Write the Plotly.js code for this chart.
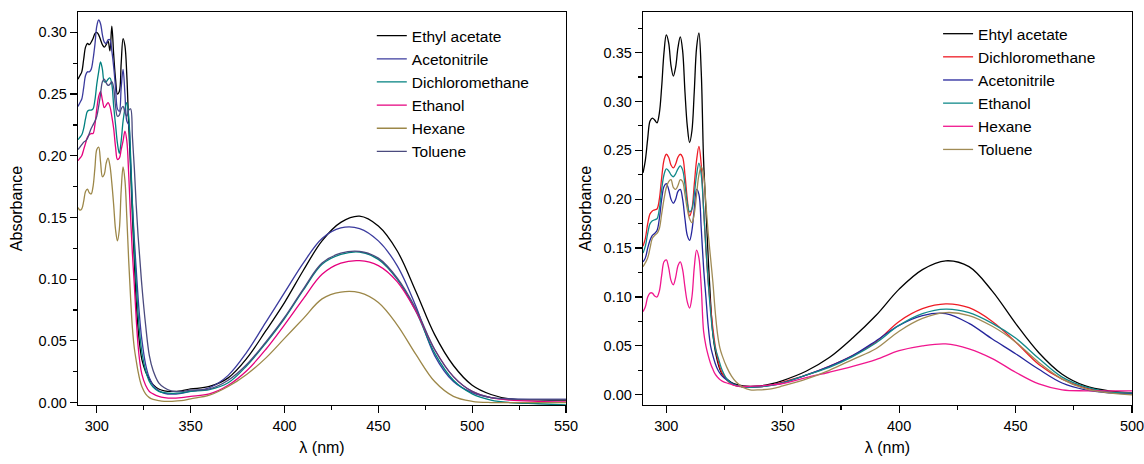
<!DOCTYPE html>
<html>
<head>
<meta charset="utf-8">
<script src="https://cdn.plot.ly/plotly-3.0.1.min.js"></script>
<style>html,body{margin:0;padding:0;background:#fff;}#chart{width:1144px;height:464px;}</style>
</head>
<body>
<div id="chart"></div>
<script>
// ---------- Left panel data ----------
const wlLeft = [290,291,292,293,294,295,296,297,298,299,300,301,302,303,304,305,306,307,308,309,310,311,312,313,314,315,316,317,318,319,320,321,322,323,324,326,328,330,333,336,340,345,350,360,370,380,390,400,410,420,430,440,450,460,470,480,490,500,510,520,535,550];
const leftNames = ["Ethyl acetate","Acetonitrile","Dichloromethane","Ethanol","Hexane","Toluene"];
const leftEthylAcetate = [0.262,0.265,0.268,0.278,0.288,0.291,0.290,0.292,0.295,0.299,
  0.300,0.298,0.294,0.290,0.288,0.290,0.293,0.285,0.305,0.282,
  0.262,0.250,0.252,0.275,0.295,0.289,0.265,0.225,0.190,0.150,
  0.115,0.082,0.060,0.045,0.035,
  0.025,0.019,0.0145,0.011,0.0095,0.009,0.0095,0.011,
  0.013,0.020,0.036,0.058,0.081,0.107,0.131,0.146,0.151,0.143,0.123,0.090,0.055,0.030,0.014,0.0065,0.003,0.0022,0.002];
const leftAcetonitrile = [0.240,0.243,0.246,0.255,0.265,0.268,0.268,0.270,0.278,0.290,
  0.305,0.310,0.307,0.298,0.292,0.291,0.294,0.294,0.285,0.272,
  0.255,0.238,0.236,0.255,0.270,0.250,0.228,0.225,0.195,0.160,
  0.132,0.108,0.085,0.066,0.051,
  0.031,0.020,0.014,0.0095,0.0075,0.0068,0.0075,0.009,
  0.012,0.022,0.041,0.065,0.089,0.113,0.133,0.1415,0.141,0.131,0.111,0.078,0.038,0.017,0.008,0.004,0.003,0.0025,0.0025];
const leftDichloromethane = [0.213,0.215,0.217,0.222,0.230,0.236,0.237,0.237,0.238,0.245,
  0.258,0.268,0.276,0.270,0.260,0.260,0.262,0.263,0.258,0.240,
  0.225,0.210,0.202,0.212,0.228,0.238,0.243,0.232,0.200,0.160,
  0.125,0.097,0.072,0.054,0.041,
  0.026,0.017,0.0125,0.009,0.008,0.0075,0.0078,0.009,
  0.0105,0.016,0.030,0.048,0.068,0.091,0.112,0.120,0.122,0.116,0.100,0.074,0.040,0.018,0.007,0.002,0.0,-0.001,-0.002];
const leftEthanol = [0.196,0.198,0.200,0.205,0.210,0.215,0.217,0.218,0.218,0.225,
  0.238,0.248,0.252,0.245,0.239,0.241,0.243,0.240,0.232,0.222,
  0.207,0.197,0.198,0.205,0.212,0.220,0.212,0.185,0.150,0.120,
  0.095,0.068,0.046,0.032,0.023,
  0.014,0.009,0.007,0.005,0.004,0.0035,0.004,0.005,
  0.007,0.014,0.026,0.043,0.063,0.084,0.104,0.113,0.115,0.111,0.098,0.074,0.043,0.021,0.009,0.004,0.002,0.001,0.0005];
const leftHexane = [0.158,0.156,0.157,0.163,0.171,0.173,0.170,0.169,0.175,0.190,
  0.205,0.207,0.195,0.183,0.185,0.194,0.198,0.192,0.178,0.160,
  0.140,0.131,0.140,0.172,0.191,0.180,0.150,0.115,0.085,0.060,
  0.044,0.034,0.025,0.018,0.013,
  0.007,0.004,0.0025,0.0015,0.001,0.001,0.0015,0.003,
  0.006,0.013,0.023,0.036,0.052,0.068,0.084,0.0895,0.089,0.081,0.063,0.039,0.017,0.005,0.001,0.0,0.0,0.0,0.0];
const leftToluene = [0.205,0.207,0.209,0.211,0.212,0.214,0.218,0.222,0.225,0.228,
  0.232,0.240,0.250,0.260,0.262,0.259,0.257,0.258,0.260,0.255,
  0.240,0.232,0.233,0.238,0.240,0.235,0.232,0.237,0.238,0.215,
  0.190,0.160,0.135,0.115,0.095,
  0.063,0.038,0.026,0.016,0.012,0.0092,0.009,0.010,
  0.011,0.018,0.031,0.049,0.069,0.092,0.113,0.121,0.1225,0.117,0.101,0.076,0.043,0.021,0.009,0.004,0.0028,0.0025,0.0025];
const leftColors = ["#000000","#3b3b9e","#00807f","#e5007e","#9c8748","#4a4a7e"];

// ---------- Right panel data ----------
const wlRight = [290,291,292,293,294,295,296,297,298,299,300,301,302,303,304,305,306,307,308,309,310,311,312,313,314,315,316,317,318,319,320,321,322,323,324,326,328,330,333,336,340,345,350,360,370,380,390,400,410,420,430,440,450,460,470,480,490,500];
const rightNames = ["Ehtyl acetate","Dichloromethane","Acetonitrile","Ethanol","Hexane","Toluene"];
const rightEthylAcetate = [0.227,0.240,0.262,0.280,0.283,0.281,0.278,0.288,0.315,0.350,
  0.368,0.360,0.337,0.326,0.335,0.355,0.366,0.352,0.310,0.275,
  0.258,0.270,0.310,0.355,0.370,0.330,0.240,0.190,0.140,0.095,
  0.062,0.045,0.034,0.026,0.021,
  0.016,0.0125,0.0105,0.009,0.0085,0.009,0.011,0.0145,
  0.024,0.038,0.058,0.081,0.108,0.128,0.137,0.131,0.106,0.073,0.043,0.021,0.009,0.004,0.002];
const rightDichloromethane = [0.152,0.160,0.175,0.185,0.188,0.189,0.190,0.200,0.222,0.240,
  0.246,0.243,0.235,0.232,0.236,0.243,0.246,0.243,0.225,0.200,
  0.183,0.190,0.215,0.240,0.254,0.235,0.190,0.150,0.115,0.090,
  0.068,0.050,0.037,0.028,0.022,
  0.015,0.011,0.009,0.008,0.0075,0.008,0.010,0.013,
  0.020,0.029,0.040,0.054,0.075,0.088,0.093,0.089,0.075,0.054,0.031,0.016,0.007,0.003,0.002];
const rightAcetonitrile = [0.136,0.140,0.150,0.158,0.163,0.165,0.168,0.180,0.200,0.213,
  0.216,0.210,0.200,0.196,0.200,0.208,0.210,0.200,0.180,0.163,
  0.158,0.168,0.190,0.210,0.205,0.170,0.130,0.100,0.070,0.050,
  0.040,0.032,0.026,0.022,0.019,
  0.015,0.012,0.0095,0.008,0.0078,0.0082,0.0095,0.012,
  0.020,0.029,0.040,0.055,0.071,0.081,0.083,0.073,0.057,0.042,0.026,0.012,0.005,0.002,0.001];
const rightEthanol = [0.145,0.152,0.165,0.175,0.178,0.179,0.180,0.190,0.210,0.225,
  0.231,0.229,0.225,0.223,0.226,0.231,0.234,0.230,0.215,0.196,
  0.187,0.190,0.205,0.225,0.237,0.225,0.190,0.150,0.115,0.085,
  0.062,0.048,0.040,0.032,0.025,
  0.016,0.0115,0.0095,0.008,0.0075,0.008,0.0095,0.012,
  0.020,0.028,0.039,0.053,0.071,0.083,0.0876,0.084,0.073,0.058,0.037,0.018,0.008,0.003,0.002];
const rightHexane = [0.085,0.090,0.100,0.104,0.104,0.101,0.100,0.106,0.122,0.136,
  0.138,0.130,0.117,0.1125,0.120,0.132,0.136,0.128,0.110,0.095,
  0.0886,0.100,0.130,0.148,0.140,0.110,0.065,0.050,0.040,0.032,
  0.026,0.021,0.018,0.0155,0.014,
  0.012,0.0105,0.009,0.0085,0.0085,0.009,0.010,0.0115,
  0.0175,0.023,0.029,0.036,0.045,0.050,0.052,0.047,0.037,0.023,0.011,0.005,0.004,0.004,0.004];
const rightToluene = [0.131,0.135,0.140,0.150,0.160,0.163,0.165,0.170,0.185,0.200,
  0.212,0.218,0.220,0.212,0.210,0.214,0.220,0.218,0.205,0.190,
  0.180,0.176,0.185,0.205,0.225,0.233,0.225,0.195,0.165,0.140,
  0.115,0.085,0.062,0.048,0.040,
  0.028,0.019,0.013,0.0075,0.005,0.005,0.006,0.009,
  0.016,0.025,0.036,0.047,0.065,0.078,0.084,0.081,0.070,0.054,0.033,0.016,0.006,0.002,0.0];
const rightColors = ["#000000","#ee1c25","#25259c","#118a8a","#f0168e","#a08b55"];

const leftSeries = [leftEthylAcetate,leftAcetonitrile,leftDichloromethane,leftEthanol,leftHexane,leftToluene];
const rightSeries = [rightEthylAcetate,rightDichloromethane,rightAcetonitrile,rightEthanol,rightHexane,rightToluene];

const FONT = "Liberation Sans, Arial, Helvetica, sans-serif";
const traces = [];
leftSeries.forEach((ys,i)=>{
  traces.push({x: wlLeft, y: ys, type:'scatter', mode:'lines', name:leftNames[i],
    line:{color:leftColors[i], width:1.3, shape:'spline', smoothing:1.0},
    xaxis:'x', yaxis:'y', legend:'legend'});
});
rightSeries.forEach((ys,i)=>{
  traces.push({x: wlRight, y: ys, type:'scatter', mode:'lines', name:rightNames[i],
    line:{color:rightColors[i], width:1.3, shape:'spline', smoothing:1.0},
    xaxis:'x2', yaxis:'y2', legend:'legend2'});
});

function xAxis(domain, range, anchor){
  return {domain: domain, range: range, anchor: anchor, dtick: 50, tick0: 0,
    ticks:'outside', ticklen:7, tickwidth:1.2, tickcolor:'#000',
    minor:{dtick:25, ticks:'outside', ticklen:4, tickwidth:1.2, tickcolor:'#000'},
    showline:true, linecolor:'#000', linewidth:1.3, mirror:true,
    showgrid:false, zeroline:false, ticklabeloverflow:'allow',
    tickfont:{family:FONT, size:14.5, color:'#000'},
    title:{text:'λ (nm)', font:{family:FONT, size:16, color:'#000'}, standoff:9}};
}
function yAxis(domain, range, anchor, standoff){
  return {domain: domain, range: range, anchor: anchor, dtick: 0.05, tick0: 0, tickformat:'.2f',
    ticks:'outside', ticklen:7, tickwidth:1.2, tickcolor:'#000',
    minor:{dtick:0.025, ticks:'outside', ticklen:4, tickwidth:1.2, tickcolor:'#000'},
    showline:true, linecolor:'#000', linewidth:1.3, mirror:true,
    showgrid:false, zeroline:false, ticklabeloverflow:'allow',
    tickfont:{family:FONT, size:14.5, color:'#000'},
    title:{text:'Absorbance', font:{family:FONT, size:16, color:'#000'}, standoff:standoff}};
}

const layout = {
  width:1144, height:464,
  margin:{l:0, r:0, t:12, b:59},
  paper_bgcolor:'#fff', plot_bgcolor:'#fff',
  showlegend:true,
  font:{family:FONT, color:'#000'},
  xaxis: xAxis([0.0682,0.4948],[290,550],'y'),
  yaxis: yAxis([0,1],[-0.002,0.3165],'x',12),
  xaxis2: xAxis([0.5621,0.9895],[290,500],'y2'),
  yaxis2: yAxis([0,1],[-0.0105,0.3915],'x2',8),
  legend:{x:0.325, y:0.982, xanchor:'left', yanchor:'top', bgcolor:'rgba(0,0,0,0)',
    borderwidth:0, font:{family:FONT, size:15.5, color:'#000'}},
  legend2:{x:0.820, y:0.987, xanchor:'left', yanchor:'top', bgcolor:'rgba(0,0,0,0)',
    borderwidth:0, font:{family:FONT, size:15.5, color:'#000'}}
};

Plotly.newPlot('chart', traces, layout, {staticPlot:true, displayModeBar:false});
</script>
</body>
</html>
